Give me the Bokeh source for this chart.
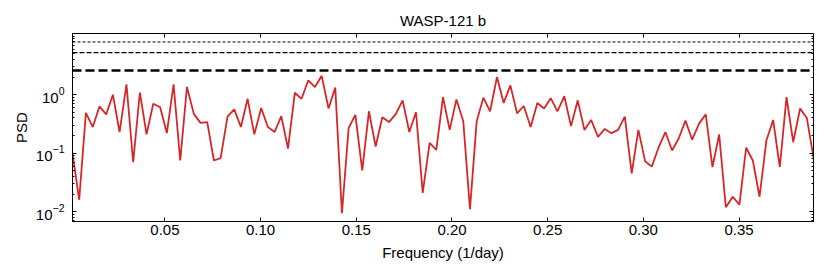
from bokeh.plotting import figure
from bokeh.models import (Range1d, LogAxis, LinearAxis, FixedTicker, Span,
                          CustomLabelingPolicy, PrintfTickFormatter)
from bokeh.embed import file_html
from bokeh.resources import INLINE

freq = [0.0017, 0.0052, 0.0087, 0.0123, 0.0158, 0.0193, 0.0228, 0.0263, 0.0299, 0.0334,
        0.0369, 0.0404, 0.0439, 0.0475, 0.0510, 0.0545, 0.0580, 0.0615, 0.0651, 0.0686,
        0.0721, 0.0756, 0.0791, 0.0827, 0.0862, 0.0897, 0.0932, 0.0967, 0.1003, 0.1038,
        0.1073, 0.1108, 0.1143, 0.1179, 0.1214, 0.1249, 0.1284, 0.1319, 0.1355, 0.1390,
        0.1425, 0.1460, 0.1495, 0.1531, 0.1566, 0.1601, 0.1636, 0.1671, 0.1707, 0.1742,
        0.1777, 0.1812, 0.1847, 0.1883, 0.1918, 0.1953, 0.1988, 0.2023, 0.2059, 0.2094,
        0.2129, 0.2164, 0.2199, 0.2235, 0.2270, 0.2305, 0.2340, 0.2375, 0.2411, 0.2446,
        0.2481, 0.2516, 0.2551, 0.2587, 0.2622, 0.2657, 0.2692, 0.2727, 0.2763, 0.2798,
        0.2833, 0.2868, 0.2903, 0.2939, 0.2974, 0.3009, 0.3044, 0.3079, 0.3115, 0.3150,
        0.3185, 0.3220, 0.3255, 0.3291, 0.3326, 0.3361, 0.3396, 0.3431, 0.3467, 0.3502,
        0.3537, 0.3572, 0.3607, 0.3643, 0.3678, 0.3713, 0.3748, 0.3783, 0.3819, 0.3854,
        0.3889]

psd = [0.10, 0.016, 0.49, 0.28, 0.63, 0.46, 1.0, 0.23, 1.5, 0.070,
       1.09, 0.21, 0.70, 0.61, 0.22, 1.5, 0.075, 1.35, 0.47, 0.33,
       0.34, 0.075, 0.082, 0.42, 0.56, 0.28, 0.85, 0.21, 0.59, 0.28,
       0.23, 0.43, 0.12, 1.08, 0.85, 1.76, 1.35, 2.1, 0.58, 1.32,
       0.0094, 0.27, 0.45, 0.051, 0.52, 0.13, 0.41, 0.34, 0.47, 0.80,
       0.23, 0.50, 0.021, 0.15, 0.114, 0.91, 0.25, 0.83, 0.35, 0.011,
       0.35, 0.89, 0.52, 2.0, 0.72, 1.44, 0.48, 0.64, 0.28, 0.72,
       0.58, 0.87, 0.52, 0.94, 0.29, 0.80, 0.25, 0.37, 0.19, 0.26,
       0.22, 0.25, 0.42, 0.045, 0.25, 0.073, 0.059, 0.124, 0.23, 0.111,
       0.18, 0.36, 0.17, 0.32, 0.46, 0.058, 0.21, 0.0119, 0.018, 0.0132,
       0.124, 0.075, 0.018, 0.165, 0.37, 0.058, 0.91, 0.155, 0.58, 0.40,
       0.085]

# significance levels (horizontal dashed lines)
levels = [7.95, 5.25, 2.6]

x_ticks = [0.05, 0.10, 0.15, 0.20, 0.25, 0.30, 0.35]
y_ticks = [0.01, 0.1, 1.0]
y_minor = [m * 10.0 ** e for e in (-3, -2, -1, 0) for m in range(2, 10)] + [10.0]

FONT = "Liberation Sans"
FS = "15px"

p = figure(frame_width=741, frame_height=188,
           y_axis_type="log",
           x_range=Range1d(freq[0], freq[-1]),
           y_range=Range1d(0.0068, 11.1),
           min_border_left=72, min_border_right=9,
           min_border_top=33, min_border_bottom=48,
           output_backend="svg", toolbar_location=None,
           title="WASP-121 b")

p.background_fill_color = "white"
p.border_fill_color = "white"
p.outline_line_color = "black"
p.outline_line_width = 1
p.xgrid.visible = False
p.ygrid.visible = False

p.title.text_font = FONT
p.title.text_font_size = FS
p.title.text_font_style = "normal"
p.title.align = "center"
p.title.text_color = "black"
p.title.standoff = 1

hide_all = CustomLabelingPolicy(code="""
    for (const i of indices) { indices.unset(i) }
    return indices
""")


def style_axis(ax, show_labels):
    ax.axis_line_color = "black"
    ax.axis_line_width = 1
    ax.major_tick_line_color = "black"
    ax.minor_tick_line_color = "black"
    ax.major_tick_in = 4
    ax.major_tick_out = 0
    ax.minor_tick_in = 2
    ax.minor_tick_out = 0
    ax.major_label_text_font = FONT
    ax.major_label_text_color = "black"
    ax.major_label_text_font_size = FS
    ax.axis_label_text_font = FONT
    ax.axis_label_text_font_style = "normal"
    ax.axis_label_text_font_size = FS
    ax.axis_label_text_color = "black"
    if not show_labels:
        ax.major_label_policy = hide_all
        ax.major_label_text_font_size = "1px"
        ax.major_label_standoff = 0


xb = p.xaxis[0]
xb.ticker = FixedTicker(ticks=x_ticks, minor_ticks=[])
xb.formatter = PrintfTickFormatter(format="%.2f")
xb.axis_label = "Frequency (1/day)"
style_axis(xb, True)
xb.major_label_standoff = 3
xb.axis_label_standoff = 6

yl = p.yaxis[0]
yl.ticker = FixedTicker(ticks=y_ticks, minor_ticks=y_minor)
yl.axis_label = "PSD"
style_axis(yl, True)
yl.major_label_standoff = 8
yl.axis_label_standoff = 3

xt = LinearAxis(ticker=FixedTicker(ticks=x_ticks, minor_ticks=[]))
style_axis(xt, False)
p.add_layout(xt, "above")

yr = LogAxis(ticker=FixedTicker(ticks=y_ticks, minor_ticks=y_minor))
style_axis(yr, False)
p.add_layout(yr, "right")

styles = [("3 2", 1.0), ("5 2", 1.3), ("9 4", 2.5)]
for lev, (dash, w) in zip(levels, styles):
    p.add_layout(Span(location=lev, dimension="width", line_color="black",
                      line_width=w, line_dash=dash))

p.line(freq, psd, line_color="#d62728", line_width=1.8)

open("out.html", "w").write(file_html(p, INLINE))
